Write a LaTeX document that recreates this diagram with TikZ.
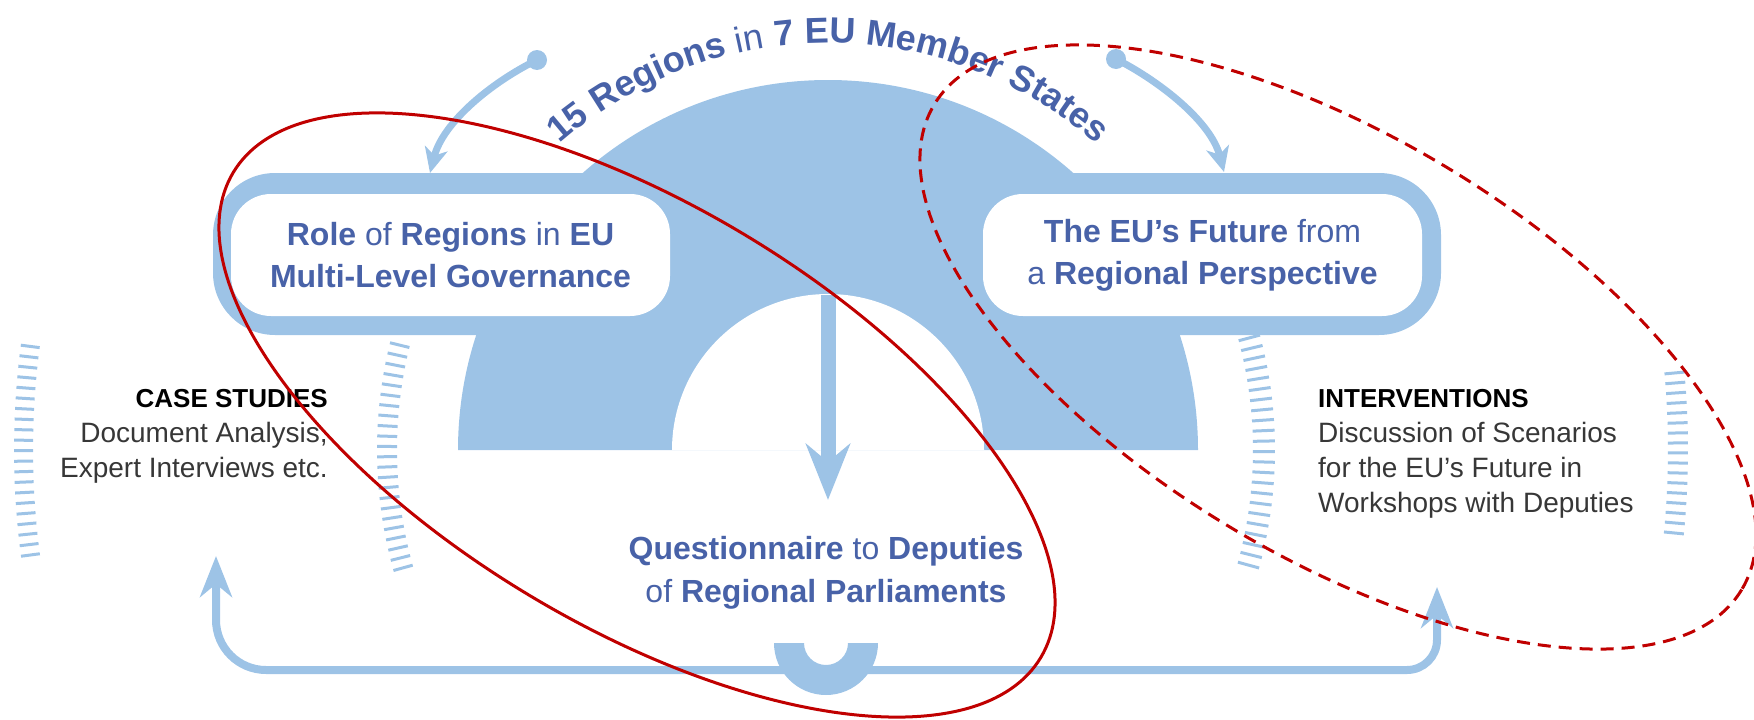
\documentclass[tikz,border=0pt]{standalone}
\usepackage{fontspec}
\setmainfont{Liberation Sans}
\usetikzlibrary{arrows.meta,decorations.text}

\definecolor{skyband}{RGB}{157,195,230}
\definecolor{euink}{RGB}{72,98,168}
\definecolor{bodyink}{RGB}{55,55,55}
\definecolor{markred}{RGB}{192,0,0}

\newcommand{\ttlbold}{\fontsize{36}{40}\selectfont\bfseries}
\newcommand{\ttlthin}{\fontsize{36}{40}\selectfont\mdseries}

\tikzset{
  pill/.style={fill=white, rounded corners=40, minimum width=439, minimum height=122,
    inner sep=0, align=center, text=euink, font=\fontsize{32}{42}\selectfont},
  note/.style={inner sep=0, text=bodyink, font=\fontsize{28}{35}\selectfont},
  dot/.style={circle, fill=skyband, minimum size=20, inner sep=0},
  feed/.style={skyband, line width=7, -{Stealth[length=25pt,width=23pt,inset=7pt]}},
  loop/.style={skyband, line width=8, -{Stealth[length=41pt,width=32pt,inset=13pt]}},
  tick/.style={skyband, line width=3},
  ring/.style={markred, line width=3}
}

\begin{document}
\begin{tikzpicture}[x=1pt,y=-1pt]
\useasboundingbox (0,0) rectangle (1754,720);
\coordinate (hub) at (828,450);

\fill[skyband, rounded corners=62] (213,173) rectangle (1441,335);
\fill[skyband] (hub) ++(180:370) arc[start angle=180, end angle=360, radius=370] -- cycle;
\fill[white] (hub) ++(180:156) arc[start angle=180, end angle=360, radius=156] -- cycle;

\node[pill] (role) at (450.5,255) {\textbf{Role} of \textbf{Regions} in \textbf{EU}\\\textbf{Multi-Level Governance}};
\node[pill] (future) at (1202.5,255) {\textbf{The EU’s Future} from\\a \textbf{Regional Perspective}};

\coordinate (holetop) at (828,295);
\coordinate (qtip) at (828,500);
\draw[skyband, line width=15, -{Stealth[length=56pt,width=44pt,inset=18pt]}] (holetop) -- (qtip);

\foreach \i [evaluate=\i as \a using 172.5+0.745*\i] in {0,...,20}
  \draw[tick] (hub) ++(\a:795) -- ++(\a:19);
\foreach \i [evaluate=\i as \a using 164.5+1.33*\i] in {0,...,22}
  \draw[tick] (hub) ++(\a:431) -- ++(\a:20);
\foreach \i [evaluate=\i as \a using -14.9+1.373*\i] in {0,...,22}
  \draw[tick] (hub) ++(\a:425) -- ++(\a:22);
\foreach \i [evaluate=\i as \a using -5.2+0.675*\i] in {0,...,16}
  \draw[tick] (hub) ++(\a:840) -- ++(\a:20);

\coordinate (cup) at (826,670);
\coordinate (caseup) at (216,556);
\coordinate (intup) at (1437,587);
\draw[loop, rounded corners=50] (cup) -| (caseup);
\draw[loop, rounded corners=30] (cup) -| (intup);
\fill[skyband] (774,643) arc[start angle=180, end angle=0, radius=52]
  -- (848,643) arc[start angle=0, end angle=180, radius=22] -- cycle;

\node[dot] (ldot) at (537,60) {};
\node[dot] (rdot) at (1116,59) {};
\coordinate (ltip) at (430,173);
\coordinate (rtip) at (1224,172);
\draw[feed] (ldot.center) .. controls (492,82) and (443,122) .. (ltip);
\draw[feed] (rdot.center) .. controls (1161,82) and (1211,122) .. (rtip);

\path[decorate, decoration={text along path, text color=euink, text align=center,
  text={|\ttlbold|15 Regions |\ttlthin|in |\ttlbold|7 EU Member States}}]
  (hub) ++(220:407) arc[start angle=220, end angle=320, radius=407];

\node[note, anchor=north east, align=right] (cases) at (328,389)
  {{\fontsize{26}{35}\selectfont\bfseries\color{black}CASE STUDIES}\\Document Analysis,\\Expert Interviews etc.};
\node[note, anchor=north west, align=left] (interv) at (1318,389)
  {{\fontsize{26}{35}\selectfont\bfseries\color{black}INTERVENTIONS}\\Discussion of Scenarios\\for the EU’s Future in\\Workshops with Deputies};
\node[inner sep=0, align=center, text=euink, font=\fontsize{32}{43}\selectfont] (quest) at (826,573)
  {\textbf{Questionnaire} to \textbf{Deputies}\\of \textbf{Regional Parliaments}};

\draw[ring, rotate around={-31:(637,415)}] (637,415) ellipse[x radius=471, y radius=210];
\draw[ring, dash pattern=on 13pt off 8pt, rotate around={-31:(1338,347)}] (1338,347) ellipse[x radius=471, y radius=210];
\end{tikzpicture}
\end{document}
